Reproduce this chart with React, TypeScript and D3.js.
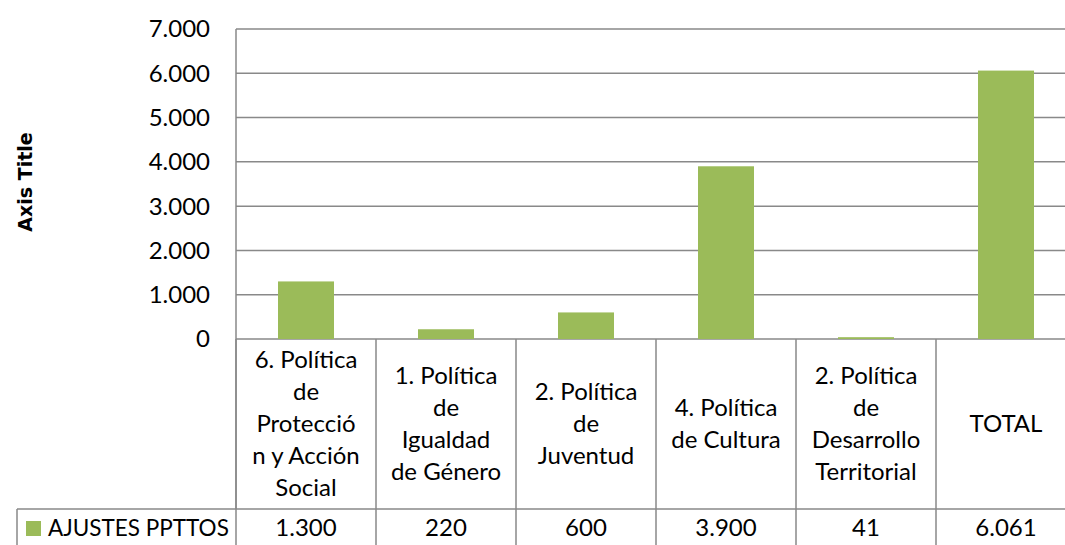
import React from 'react';
import * as d3 from 'd3';

const categories = ['cat1', 'cat2', 'cat3', 'cat4', 'cat5', 'cat6'];
const categoryLines = [
  ['6. Política', 'de', 'Protecció', 'n y Acción', 'Social'],
  ['1. Política', 'de', 'Igualdad', 'de Género'],
  ['2. Política', 'de', 'Juventud'],
  ['4. Política', 'de Cultura'],
  ['2. Política', 'de', 'Desarrollo', 'Territorial'],
  ['TOTAL'],
];
const ajustes = [1300, 220, 600, 3900, 41, 6061];
const seriesName = 'AJUSTES PPTTOS';
const yTicks = [0, 1000, 2000, 3000, 4000, 5000, 6000, 7000];

const width = 1065,
  height = 545;
const green = '#9BBB59';
const gridColor = '#898989';
const font = 'Lato, "Open Sans", sans-serif';
const fontSize = 24;

const locale = d3.formatLocale({ decimal: ',', thousands: '.', grouping: [3], currency: ['', '€'] });
const fmt = locale.format(',d');

const App = () => {
  const plotLeft = 236,
    plotRight = 1076,
    plotTop = 29,
    plotBottom = 339;
  const catRowBottom = 509,
    dataRowBottom = 547,
    tableLeft = 17;

  const y = d3.scaleLinear().domain([0, 7000]).range([plotBottom, plotTop]);
  const x = d3.scaleBand().domain(categories).range([plotLeft, plotRight]).padding(0);
  const xBar = d3.scaleBand().domain(categories).range([plotLeft, plotRight]).paddingInner(0.6).paddingOuter(0.3);

  const lineH = 32;
  const catMid = (plotBottom + catRowBottom) / 2;
  const dataBase = 536;
  const edges = categories.map((c) => x(c)!).concat([plotRight]);

  return (
    <svg width={width} height={height} style={{ position: 'absolute', left: 0, top: 0 }} fontFamily={font}>
      <rect width={width} height={height} fill="#fff" />
      {/* gridlines */}
      {yTicks.map((t) => (
        <line key={t} x1={plotLeft} x2={plotRight} y1={y(t)} y2={y(t)} stroke={gridColor} strokeWidth={1.5} />
      ))}
      {yTicks.map((t) => (
        <text key={'l' + t} x={210} y={y(t)} dy="0.35em" textAnchor="end" fontSize={fontSize} fill="#000">
          {fmt(t)}
        </text>
      ))}
      <text
        transform={`translate(32,${(plotTop + plotBottom) / 2 - 2}) rotate(-90)`}
        textAnchor="middle"
        fontFamily='"DejaVu Sans", sans-serif'
        fontWeight="bold"
        fontSize={19}
      >
        Axis Title
      </text>

      {/* bars */}
      {categories.map((c, i) => (
        <rect key={c} x={xBar(c)} width={xBar.bandwidth()} y={y(ajustes[i])} height={y(0) - y(ajustes[i])} fill={green} />
      ))}

      {/* data table */}
      <line x1={plotLeft} x2={plotLeft} y1={plotTop} y2={catRowBottom} stroke={gridColor} strokeWidth={1.5} />
      <line x1={tableLeft} x2={plotRight} y1={catRowBottom} y2={catRowBottom} stroke={gridColor} strokeWidth={1.5} />
      <line x1={tableLeft} x2={plotRight} y1={dataRowBottom} y2={dataRowBottom} stroke={gridColor} strokeWidth={1.5} />
      <line x1={tableLeft} x2={tableLeft} y1={catRowBottom} y2={dataRowBottom} stroke={gridColor} strokeWidth={1.5} />
      {edges.map((e, i) => (
        <line key={'e' + i} x1={e} x2={e} y1={plotBottom} y2={dataRowBottom} stroke={gridColor} strokeWidth={1.5} />
      ))}

      {categories.map((c, i) => {
        const cx = x(c)! + x.bandwidth() / 2;
        const lines = categoryLines[i];
        const first = catMid - ((lines.length - 1) * lineH) / 2;
        return (
          <g key={'t' + c}>
            {lines.map((l, j) => (
              <text key={j} x={cx} y={first + j * lineH} dy="0.35em" textAnchor="middle" fontSize={fontSize}>
                {l}
              </text>
            ))}
            <text x={cx} y={dataBase} textAnchor="middle" fontSize={fontSize}>
              {fmt(ajustes[i])}
            </text>
          </g>
        );
      })}

      <rect x={26} y={521} width={15} height={15} fill={green} />
      <text x={48} y={dataBase} fontSize={22.5}>
        {seriesName}
      </text>
    </svg>
  );
};

export default App;
